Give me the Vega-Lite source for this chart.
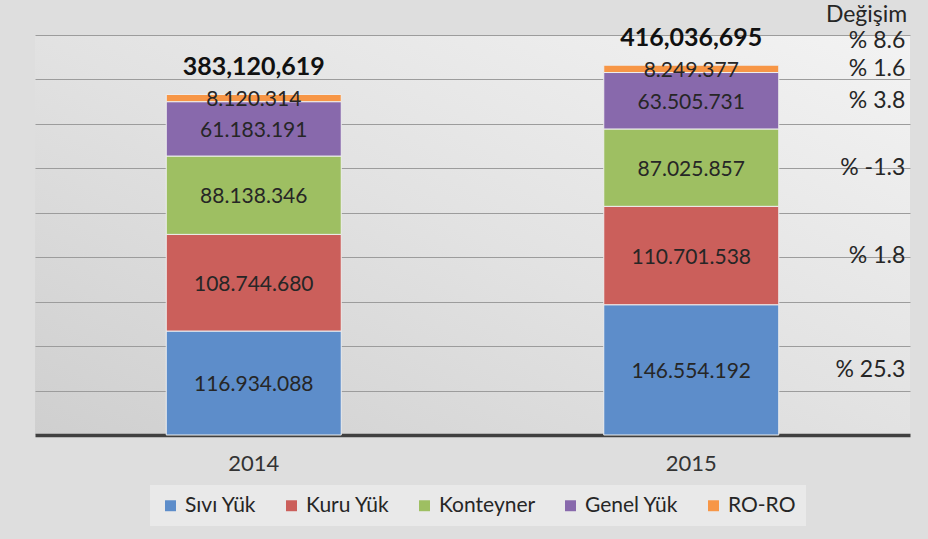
{
  "$schema": "https://vega.github.io/schema/vega-lite/v6.json",
  "width": 875,
  "height": 400,
  "autosize": "none",
  "padding": {"left": 35, "top": 35, "right": 18, "bottom": 104},
  "background": "#dedede",
  "config": {
    "view": {"stroke": null, "fill": {"gradient": "linear", "x1": 0, "y1": 1, "x2": 1, "y2": 0, "stops": [{"offset": 0, "color": "#cfcfcf"}, {"offset": 0.5, "color": "#e2e2e2"}, {"offset": 1, "color": "#f3f3f3"}]}},
    "font": "Lato",
    "text": {"font": "Lato", "color": "#262626"}
  },
  "data": {
    "values": [
      {"year": "2014", "type": "Sıvı Yük", "value": 116934088, "change": null},
      {"year": "2014", "type": "Kuru Yük", "value": 108744680, "change": null},
      {"year": "2014", "type": "Konteyner", "value": 88138346, "change": null},
      {"year": "2014", "type": "Genel Yük", "value": 61183191, "change": null},
      {"year": "2014", "type": "RO-RO", "value": 8120314, "change": null},
      {"year": "2015", "type": "Sıvı Yük", "value": 146554192, "change": "25.3"},
      {"year": "2015", "type": "Kuru Yük", "value": 110701538, "change": "1.8"},
      {"year": "2015", "type": "Konteyner", "value": 87025857, "change": "-1.3"},
      {"year": "2015", "type": "Genel Yük", "value": 63505731, "change": "3.8"},
      {"year": "2015", "type": "RO-RO", "value": 8249377, "change": "1.6"}
    ]
  },
  "transform": [
    {"calculate": "indexof(['Sıvı Yük','Kuru Yük','Konteyner','Genel Yük','RO-RO'], datum.type)", "as": "k"}
  ],
  "encoding": {
    "x": {
      "field": "year", "type": "nominal",
      "scale": {"paddingInner": 0.6, "paddingOuter": 0.3},
      "axis": {"title": null, "labelAngle": 0, "ticks": false, "labelFontSize": 22, "labelColor": "#333333", "labelPadding": 18, "domainColor": "#404040", "domainWidth": 3.5, "labelFont": "Lato"}
    }
  },
  "layer": [
    {
      "mark": {"type": "bar", "stroke": "#eeeeee", "strokeWidth": 1},
      "encoding": {
        "y": {
          "field": "value", "type": "quantitative", "stack": "zero",
          "scale": {"domain": [0, 450000000], "nice": false},
          "axis": {"title": null, "labels": false, "ticks": false, "domain": false, "values": [50000000, 100000000, 150000000, 200000000, 250000000, 300000000, 350000000, 400000000, 450000000], "gridColor": "#9c9c9c", "gridWidth": 1}
        },
        "color": {
          "field": "type", "type": "nominal",
          "scale": {"domain": ["Sıvı Yük", "Kuru Yük", "Konteyner", "Genel Yük", "RO-RO"], "range": ["#5d8dca", "#cb5f5b", "#9ebf62", "#8869ac", "#f79646"]},
          "legend": {"title": null, "orient": "none", "legendX": 115, "legendY": 450, "direction": "horizontal", "symbolType": "square", "symbolSize": 120, "symbolStrokeWidth": 0, "labelFontSize": 21, "labelColor": "#262626", "labelFont": "Lato", "columnPadding": 24, "fillColor": "#e9e9e9", "padding": 10}
        },
        "order": {"field": "k", "type": "quantitative"}
      }
    },
    {
      "transform": [
        {"stack": "value", "groupby": ["year"], "sort": [{"field": "k"}], "as": ["v0", "v1"]},
        {"calculate": "(datum.v0 + datum.v1) / 2", "as": "mid"},
        {"calculate": "replace(format(datum.value, ','), /,/g, '.')", "as": "lbl"}
      ],
      "mark": {"type": "text", "fontSize": 21, "baseline": "middle", "dy": 2},
      "encoding": {
        "y": {"field": "mid", "type": "quantitative"},
        "text": {"field": "lbl"}
      }
    },
    {
      "transform": [
        {"filter": "datum.year == '2015'"},
        {"stack": "value", "groupby": ["year"], "sort": [{"field": "k"}], "as": ["v0", "v1"]},
        {"calculate": "(datum.v0 + datum.v1) / 2", "as": "mid"},
        {"calculate": "'% ' + datum.change", "as": "clbl"}
      ],
      "mark": {"type": "text", "fontSize": 23, "align": "right", "baseline": "middle", "dx": 214, "color": "#262626"},
      "encoding": {
        "y": {"field": "mid", "type": "quantitative"},
        "text": {"field": "clbl"}
      }
    },
    {
      "transform": [
        {"aggregate": [{"op": "sum", "field": "value", "as": "total"}], "groupby": ["year"]}
      ],
      "mark": {"type": "text", "fontSize": 25, "fontWeight": "bold", "baseline": "middle", "dy": -27, "color": "#111111"},
      "encoding": {
        "y": {"field": "total", "type": "quantitative"},
        "text": {"field": "total", "format": ","}
      }
    },
    {
      "transform": [
        {"filter": "datum.year == '2015'"},
        {"aggregate": [{"op": "sum", "field": "value", "as": "total"}], "groupby": ["year"]}
      ],
      "mark": {"type": "text", "text": "% 8.6", "fontSize": 23, "align": "right", "baseline": "middle", "dx": 214, "dy": -24, "color": "#262626"},
      "encoding": {
        "y": {"field": "total", "type": "quantitative"}
      }
    },
    {
      "transform": [
        {"filter": "datum.year == '2015'"},
        {"aggregate": [{"op": "sum", "field": "value", "as": "total"}], "groupby": ["year"]}
      ],
      "mark": {"type": "text", "text": "Değişim", "fontSize": 23, "align": "right", "baseline": "middle", "dx": 216, "dy": -50, "color": "#262626"},
      "encoding": {
        "y": {"field": "total", "type": "quantitative"}
      }
    }
  ]
}
